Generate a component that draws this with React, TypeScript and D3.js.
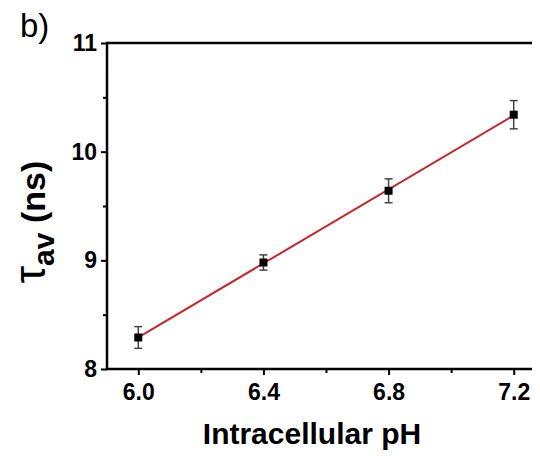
import React, { useEffect, useRef } from "react";
import * as d3 from "d3";

const ph = [6.0, 6.4, 6.8, 7.2];
const tau = [8.29, 8.98, 9.64, 10.34];
const tauErr = [0.1, 0.07, 0.11, 0.13];
const xTicks = [6.0, 6.4, 6.8, 7.2];
const yTicks = [8, 9, 10, 11];

const App = () => {
  const ref = useRef<SVGSVGElement>(null);

  useEffect(() => {
    const width = 540;
    const height = 456;
    const margin = { top: 43, right: -5, bottom: 87, left: 107 };

    const x = d3.scaleLinear().domain([5.9, 7.3]).range([margin.left, width - margin.right]);
    const y = d3.scaleLinear().domain([8, 11]).range([height - margin.bottom, margin.top]);

    const svg = d3.select(ref.current);
    svg.selectAll("*").remove();
    svg.attr("width", width).attr("height", height);

    const font = "'Liberation Sans', Arial, sans-serif";

    // bottom axis
    svg
      .append("g")
      .attr("transform", `translate(0, ${y(8)})`)
      .call(d3.axisBottom(x).tickValues(xTicks).tickFormat(d3.format(".1f")).tickSize(6).tickPadding(9))
      .call((g) => g.select(".domain").remove())
      .call((g) => g.selectAll("line").attr("stroke-width", 2))
      .call((g) =>
        g.selectAll("text").attr("font-family", font).attr("font-weight", "bold").attr("font-size", 23).attr("fill", "#000")
      );
    // minor x ticks
    svg
      .append("g")
      .attr("transform", `translate(0, ${y(8)})`)
      .call(d3.axisBottom(x).tickValues([6.2, 6.6, 7.0]).tickSize(4).tickFormat(() => ""))
      .call((g) => g.select(".domain").remove())
      .call((g) => g.selectAll("line").attr("stroke-width", 2));

    // left axis
    svg
      .append("g")
      .attr("transform", `translate(${x(5.9)}, 0)`)
      .call(d3.axisLeft(y).tickValues(yTicks).tickFormat(d3.format("d")).tickSize(6).tickPadding(4))
      .call((g) => g.select(".domain").remove())
      .call((g) => g.selectAll("line").attr("stroke-width", 2))
      .call((g) =>
        g.selectAll("text").attr("font-family", font).attr("font-weight", "bold").attr("font-size", 23).attr("fill", "#000")
      );
    svg
      .append("g")
      .attr("transform", `translate(${x(5.9)}, 0)`)
      .call(d3.axisLeft(y).tickValues([8.5, 9.5, 10.5]).tickSize(4).tickFormat(() => ""))
      .call((g) => g.select(".domain").remove())
      .call((g) => g.selectAll("line").attr("stroke-width", 2));

    // frame
    svg
      .append("rect")
      .attr("x", x(5.9))
      .attr("y", y(11))
      .attr("width", x(7.3) - x(5.9))
      .attr("height", y(8) - y(11))
      .attr("fill", "none")
      .attr("stroke", "#000")
      .attr("stroke-width", 2.5);

    // linear fit
    const mx = d3.mean(ph)!;
    const my = d3.mean(tau)!;
    const slope =
      d3.sum(ph, (p, i) => (p - mx) * (tau[i] - my)) / d3.sum(ph, (p) => (p - mx) * (p - mx));
    const fit = (p: number) => my + slope * (p - mx);
    const x0 = d3.min(ph)!;
    const x1 = d3.max(ph)!;
    svg
      .append("path")
      .attr("d", d3.line()([[x(x0), y(fit(x0))], [x(x1), y(fit(x1))]]))
      .attr("stroke", "#c8262c")
      .attr("stroke-width", 2)
      .attr("fill", "none");

    // error bars
    const data = ph.map((p, i) => ({ p, t: tau[i], e: tauErr[i] }));
    const eb = svg.append("g").attr("stroke", "#444").attr("stroke-width", 1.5);
    eb.selectAll("line.v")
      .data(data)
      .join("line")
      .attr("x1", (d) => x(d.p))
      .attr("x2", (d) => x(d.p))
      .attr("y1", (d) => y(d.t - d.e))
      .attr("y2", (d) => y(d.t + d.e));
    eb.selectAll("line.top")
      .data(data)
      .join("line")
      .attr("class", "top")
      .attr("x1", (d) => x(d.p) - 4)
      .attr("x2", (d) => x(d.p) + 4)
      .attr("y1", (d) => y(d.t + d.e))
      .attr("y2", (d) => y(d.t + d.e));
    eb.selectAll("line.bot")
      .data(data)
      .join("line")
      .attr("class", "bot")
      .attr("x1", (d) => x(d.p) - 4)
      .attr("x2", (d) => x(d.p) + 4)
      .attr("y1", (d) => y(d.t - d.e))
      .attr("y2", (d) => y(d.t - d.e));

    // markers
    svg
      .append("g")
      .selectAll("rect")
      .data(data)
      .join("rect")
      .attr("x", (d) => x(d.p) - 4)
      .attr("y", (d) => y(d.t) - 4)
      .attr("width", 8)
      .attr("height", 8)
      .attr("fill", "#000");

    // x label
    svg
      .append("text")
      .attr("x", 312)
      .attr("y", 444)
      .attr("text-anchor", "middle")
      .attr("font-family", font)
      .attr("font-weight", "bold")
      .attr("font-size", 30)
      .text("Intracellular pH");

    // y label
    const yl = svg
      .append("text")
      .attr("transform", "translate(45, 222) rotate(-90)")
      .attr("text-anchor", "middle")
      .attr("font-family", font)
      .attr("font-weight", "bold")
      .attr("font-size", 34);
    yl.append("tspan").attr("font-weight", "normal").attr("font-size", 44).text("τ");
    yl.append("tspan").attr("dy", 9).attr("font-size", 30).text("av");
    yl.append("tspan").attr("dy", -9).text(" (ns)");

    // panel label
    svg
      .append("text")
      .attr("x", 20)
      .attr("y", 37)
      .attr("font-family", font)
      .attr("font-size", 33)
      .text("b)");
  }, []);

  return (
    <div style={{ margin: -8 }}>
      <svg ref={ref}></svg>
    </div>
  );
};

export default App;
